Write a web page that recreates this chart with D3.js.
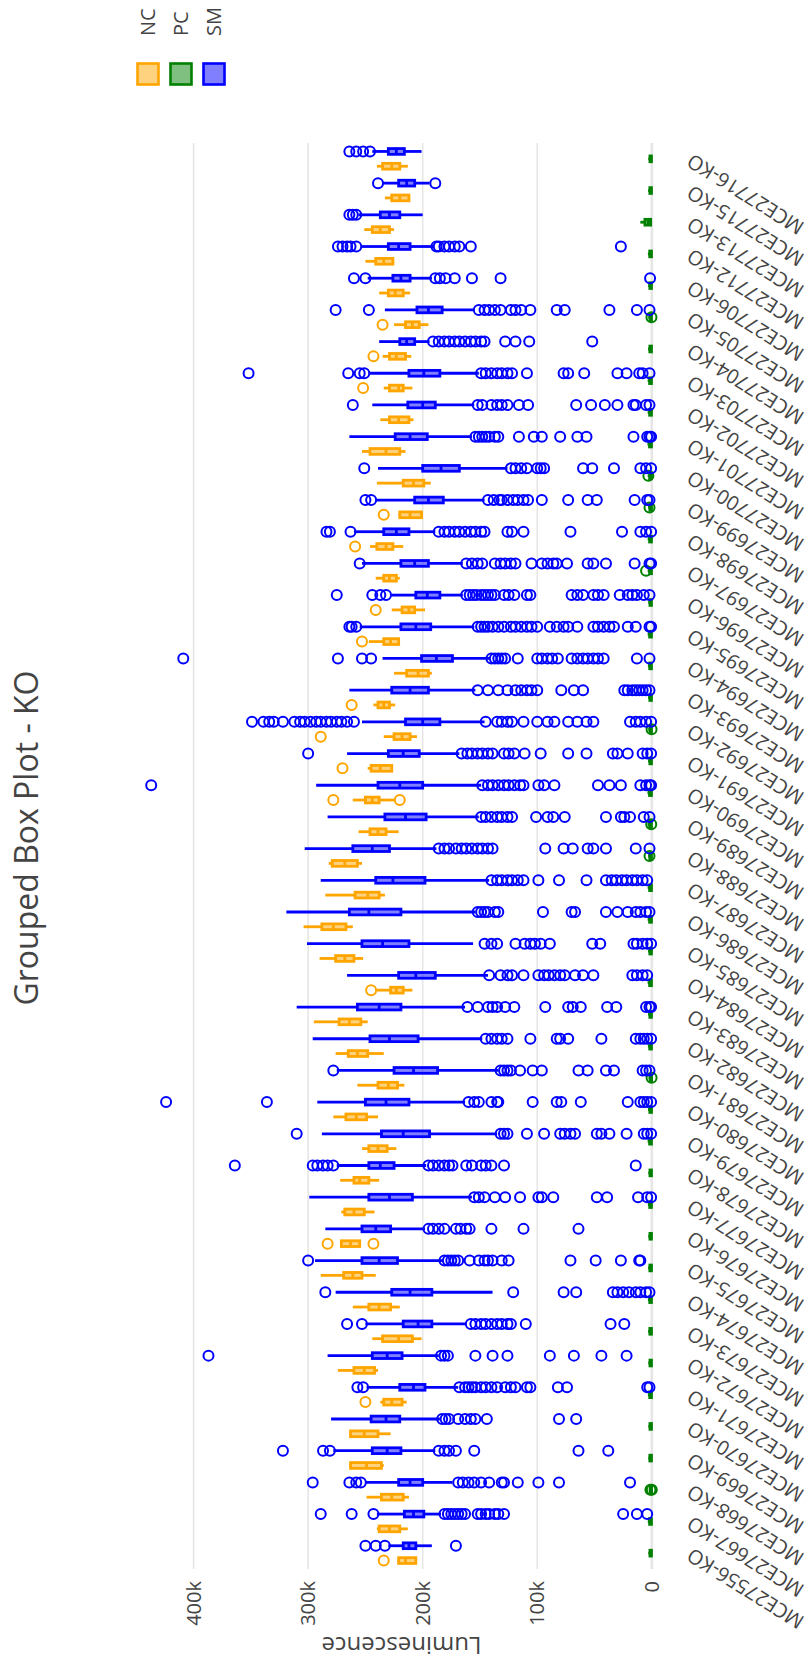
<!DOCTYPE html>
<html><head><meta charset="utf-8">
<script src="https://cdn.jsdelivr.net/npm/d3@7"></script>
<style>body{margin:0;background:#fff}svg{display:block}</style>
</head><body>
<script>
const categories = ["MCE27556-KO","MCE27667-KO","MCE27668-KO","MCE27669-KO","MCE27670-KO","MCE27671-KO","MCE27672-KO","MCE27673-KO","MCE27674-KO","MCE27675-KO","MCE27676-KO","MCE27677-KO","MCE27678-KO","MCE27679-KO","MCE27680-KO","MCE27681-KO","MCE27682-KO","MCE27683-KO","MCE27684-KO","MCE27685-KO","MCE27686-KO","MCE27687-KO","MCE27688-KO","MCE27689-KO","MCE27690-KO","MCE27691-KO","MCE27692-KO","MCE27693-KO","MCE27694-KO","MCE27695-KO","MCE27696-KO","MCE27697-KO","MCE27698-KO","MCE27699-KO","MCE27700-KO","MCE27701-KO","MCE27702-KO","MCE27703-KO","MCE27704-KO","MCE27705-KO","MCE27706-KO","MCE27712-KO","MCE27713-KO","MCE27715-KO","MCE27716-KO"];
const seriesNames = ["NC","PC","SM"];
const yTicks = [0,100000,200000,300000,400000];

// values in thousands (k)
const smLo  = [192,184,174,189,185,169,186,162,139,183,198,157,197,135,163,134,148,163,143,156,154,142,188,151,149,168,146,154,142,155,165,165,189,146,126,157,155,151,194,155,192,191,200,194,201];
const smQ1  = [206,199,200,219,220,198,218,192,192,222,228,209,225,194,212,187,204,219,189,212,219,198,229,197,200,203,185,195,174,193,185,195,212,182,168,196,189,185,207,183,211,211,220,207,216];
const smMed = [212,208,211,231,232,208,231,204,211,238,241,229,237,217,232,208,229,238,206,235,247,226,244,215,220,217,200,211,188,206,196,207,223,195,184,211,200,199,214,195,219,221,229,214,223];
const smQ3  = [217,216,221,244,245,220,244,217,227,253,253,247,247,236,250,225,246,257,221,253,264,241,261,233,239,230,215,227,201,219,206,219,234,207,200,224,213,212,220,205,226,230,237,221,230];
const smHi  = [230,240,250,278,280,249,283,250,276,294,285,299,275,288,292,275,296,310,266,301,319,289,303,283,293,266,253,264,235,255,227,253,260,241,239,264,244,247,238,233,248,254,256,235,244];
const smOut = [
 [250,241,233,171],
 [289,262,243,181,178,175,172,169,166,163,152,149,145,142,137,134,129,25,13,4],
 [296,264,258,254,169,165,160,155,149,142,131,129,117,99,81,19],
 [322,287,281,186,181,177,171,155,64,38],
 [183,180,177,169,163,158,154,144,81,66],
 [257,252,168,163,160,157,154,149,145,140,135,128,123,119,109,106,82,74,4,2],
 [387,184,181,178,154,139,126,89,68,44,22],
 [266,253,158,154,149,145,140,135,131,126,123,110,36,24],
 [285,121,77,66,34,30,25,20,14,10,5,2],
 [300,181,178,175,172,169,159,151,146,143,139,131,125,71,49,27,11,10],
 [195,191,186,181,171,167,162,159,140,112,64],
 [155,151,146,137,128,115,99,96,86,48,39,12,4,0.6],
 [364,296,292,287,283,278,195,191,186,181,177,174,162,157,149,145,140,129,14],
 [310,132,129,126,109,94,80,76,71,67,48,44,37,22,7,4,0.6],
 [424,336,160,155,151,140,135,134,104,83,79,62,21,10,7,4,0.6],
 [278,132,129,126,123,115,104,96,64,56,40,33,8,5,2],
 [145,140,135,131,126,106,83,80,73,44,14,10,7,4,0.6],
 [161,152,143,139,135,128,120,93,73,69,62,39,31,5,2,0.6],
 [142,132,126,122,112,99,94,90,85,80,76,67,60,51,17,13,8,4],
 [146,140,135,119,111,106,102,97,89,52,45,16,13,8,4,0.6],
 [152,149,146,143,137,134,95,70,67,40,30,21,14,10,5,2],
 [140,135,131,126,122,117,112,99,81,57,40,35,31,26,22,17,13,8,4],
 [186,181,177,171,166,162,157,152,148,143,139,93,77,69,56,51,40,14,2],
 [149,145,140,135,131,126,122,101,91,86,76,40,27,24,19,7,2],
 [437,148,143,139,134,129,125,120,115,112,99,94,85,47,37,27,10,5,2,0.6],
 [300,166,161,157,152,148,143,139,129,125,120,111,97,73,57,34,30,21,8,4,0.6],
 [349,339,334,330,322,312,307,303,298,293,289,284,280,275,271,266,260,145,135,131,126,122,112,100,91,85,73,65,57,51,19,14,10,5,0.6],
 [152,143,134,126,119,114,109,105,100,79,68,60,24,21,17,14,11,8,5,2],
 [409,274,253,245,140,137,134,131,128,117,100,96,91,87,82,70,65,60,56,51,47,42,13,2],
 [264,262,258,152,149,146,143,139,134,129,123,119,114,109,105,100,89,83,77,73,65,51,47,42,37,33,21,14,2,0.6],
 [275,244,237,232,162,159,156,153,149,146,143,140,137,129,125,120,109,106,70,65,60,51,47,42,28,21,17,13,7,2],
 [255,162,157,152,148,137,132,128,123,119,105,96,91,86,83,74,56,51,40,15,2,0.6],
 [284,281,263,186,181,177,172,168,163,158,154,149,146,126,122,112,71,26,10,5,0.6],
 [250,245,143,138,133,131,126,121,117,112,108,96,73,56,48,15,4,2],
 [251,123,119,114,109,100,97,94,60,52,33,10,5,0.6],
 [154,151,148,145,142,137,134,116,103,96,80,65,57,16,4,2,0.6],
 [261,152,148,140,135,131,126,116,108,66,53,41,30,16,14,5,2],
 [352,265,255,251,149,145,140,135,131,126,122,109,77,73,59,30,22,11,8,2],
 [191,186,181,177,172,168,163,158,154,149,146,128,119,107,52],
 [276,247,151,146,142,137,132,123,119,114,106,83,76,37,13,2],
 [260,250,189,185,180,172,157,132,1.5],
 [274,270,266,263,258,188,186,181,177,172,168,158,27],
 [264,261,258],
 [239,189],
 [264,258,252,246]
];

const ncLo  = [205,213,212,234,228,214,239,201,220,241,255,242,238,223,239,216,234,248,209,252,261,233,253,221,224,227,205,224,192,220,198,220,217,200,193,215,208,209,210,195,211,225,225,211,213];
const ncQ1  = [206,220,217,236,239,218,242,209,228,253,255,251,247,231,249,222,248,254,217,260,267,238,257,232,238,227,211,229,195,221,207,223,226,201,199,220,212,217,215,203,217,226,229,212,220];
const ncMed = [215,229,227,249,251,227,251,221,238,261,263,260,255,239,258,230,257,264,223,268,278,248,268,239,244,237,218,234,204,228,212,229,232,211,208,232,221,221,223,209,224,234,237,220,227];
const ncQ3  = [221,238,236,263,263,234,260,235,247,269,271,268,260,247,267,239,265,273,228,276,288,259,279,246,250,245,225,239,214,234,218,234,240,220,217,246,229,229,229,215,230,241,244,227,235];
const ncHi  = [222,240,249,264,264,237,274,244,261,289,271,271,272,253,278,257,276,295,240,290,304,285,282,256,261,248,234,243,225,247,227,241,246,221,240,253,237,234,235,225,238,250,251,233,240];
const ncOut = [[234],[],[],[],[],[250],[],[],[],[],[283,243],[],[],[],[],[],[],[],[245],[],[],[],[],[],[278,220],[270],[289],[262],[],[253],[241],[],[259],[234],[],[],[],[252],[243],[235],[],[],[],[],[]];

const pcLo  = [0,0,0,0,0,0,0,0,0,0,0,0,0,0,0,0,0,0,0,0,0,0,0,0,0,0,0,0,0,0,0,0,0,0,0,0,0,0,0,0,0,0,0,0,0];
const pcQ1  = [0.3,0.3,0.2,0.3,0.3,0.3,0.3,0.3,0.3,0.3,0.3,0.3,0.3,0.3,0.3,0.2,0.3,0.3,0.3,0.3,0.3,0.3,0.3,0.3,0.3,0.3,0.3,0.3,0.3,0.3,0.3,0.3,0.3,0.3,0.3,0.3,0.3,0.3,0.3,0.3,0.3,0.3,1.0,0.3,0.3];
const pcMed = [0.8,0.9,0.7,0.8,0.8,0.9,0.8,0.8,0.9,0.8,0.8,0.9,0.8,0.9,0.8,0.7,0.9,0.8,0.9,0.8,0.9,0.9,0.8,0.9,0.9,0.8,0.8,0.8,0.9,0.9,0.8,0.9,0.9,0.8,0.9,0.9,0.9,0.9,0.8,0.8,0.8,0.9,3.0,0.8,0.8];
const pcQ3  = [1.6,1.9,1.4,1.7,1.6,1.8,1.6,1.7,1.8,1.7,1.6,1.8,1.6,1.9,1.7,1.5,1.8,1.7,1.9,1.7,1.9,1.9,1.7,1.9,2.0,1.7,1.6,1.7,1.8,1.9,1.6,1.9,1.9,1.7,1.9,2.0,1.9,1.9,1.7,1.6,1.7,1.8,6.0,1.7,1.6];
const pcHi  = [3.0,3.5,2.6,3.0,3.0,3.4,3.0,3.2,3.4,3.2,3.0,3.4,3.0,3.6,3.2,2.8,3.4,3.2,3.6,3.2,3.6,3.6,3.2,3.6,3.8,3.2,3.0,3.2,3.4,3.6,3.0,3.6,3.6,3.2,3.6,3.8,3.6,3.6,3.2,3.0,3.2,3.4,10.0,3.2,3.0];
const pcOut = [[],[],[1.2,0],[],[],[],[],[],[],[],[],[],[],[],[],[0.2],[],[],[],[],[],[],[2],[0.5],[],[],[0.2],[],[],[],[],[5],[],[2],[3],[],[],[],[],[0.3],[],[],[],[],[]];

const colors = ["#FFA500","#008000","#0000FF"];
const fills  = ["rgba(255,165,0,0.5)","rgba(0,128,0,0.5)","rgba(0,0,255,0.5)"];
const stats = [
  {lo:ncLo,q1:ncQ1,med:ncMed,q3:ncQ3,hi:ncHi,out:ncOut},
  {lo:pcLo,q1:pcQ1,med:pcMed,q3:pcQ3,hi:pcHi,out:pcOut},
  {lo:smLo,q1:smQ1,med:smMed,q3:smQ3,hi:smHi,out:smOut}
];
const K = 1000;

// original (unrotated) frame is 1664 x 811, then rotated 90deg CCW into 811 x 1664
const W0 = 1664, H0 = 811;
const FONT = "'Open Sans', verdana, arial, sans-serif";
const svg = d3.select("body").append("svg").attr("width", H0).attr("height", W0)
  .style("background", "#fff");
const g = svg.append("g").attr("transform", `translate(0,${W0}) rotate(-90)`);

const plot = {l: 95, r: 1521, t: 126, b: 677};
const x = d3.scaleBand().domain(categories).range([plot.l, plot.r]).padding(0);
const y = d3.scaleLinear().domain([-22000, 459000]).range([plot.b, plot.t]);

// grid
g.append("g").selectAll("line").data(yTicks).join("line")
  .attr("x1", plot.l).attr("x2", plot.r)
  .attr("y1", d => y(d)).attr("y2", d => y(d))
  .attr("stroke", "#e6e6e6").attr("stroke-width", d => d === 0 ? 2.6 : 1.6);

// y tick labels
g.append("g").selectAll("text").data(yTicks).join("text")
  .attr("x", plot.l - 12).attr("y", d => y(d)).attr("dy", "0.35em")
  .attr("text-anchor", "end").attr("font-family", FONT).attr("font-size", 20)
  .attr("fill", "#444").text(d => d3.format("~s")(d));

// category labels
const bw = x.bandwidth();
g.append("g").selectAll("text").data(categories).join("text")
  .attr("transform", d => `translate(${x(d) + bw / 2},${plot.b + 12}) rotate(-58)`)
  .attr("text-anchor", "end").attr("dy", "0.35em")
  .attr("font-family", FONT).attr("font-size", 20).attr("fill", "#444")
  .text(d => d);

// boxes
const slot = bw * (1 - 0.3) / 3;
const boxW = slot * (1 - 0.3) + 0.6;
const LW = 2.8;
stats.forEach((s, si) => {
  const off = (si - 1) * slot;
  const sg = g.append("g");
  const col = colors[si];
  categories.forEach((c, i) => {
    const cu = x(c) + bw / 2 + off;
    const bx = sg.append("g");
    bx.append("line").attr("x1", cu).attr("x2", cu)
      .attr("y1", y(s.lo[i] * K)).attr("y2", y(s.q1[i] * K))
      .attr("stroke", col).attr("stroke-width", LW);
    bx.append("line").attr("x1", cu).attr("x2", cu)
      .attr("y1", y(s.q3[i] * K)).attr("y2", y(s.hi[i] * K))
      .attr("stroke", col).attr("stroke-width", LW);
    bx.append("rect").attr("x", cu - boxW / 2).attr("width", boxW)
      .attr("y", y(s.q3[i] * K)).attr("height", Math.max(0.5, y(s.q1[i] * K) - y(s.q3[i] * K)))
      .attr("fill", fills[si]).attr("stroke", col).attr("stroke-width", LW);
    bx.append("line").attr("x1", cu - boxW / 2).attr("x2", cu + boxW / 2)
      .attr("y1", y(s.med[i] * K)).attr("y2", y(s.med[i] * K))
      .attr("stroke", col).attr("stroke-width", LW);
    bx.selectAll("circle").data(s.out[i]).join("circle")
      .attr("cx", cu).attr("cy", d => y(d * K)).attr("r", 5)
      .attr("fill", "none").attr("stroke", col).attr("stroke-width", 2);
  });
});

// title
g.append("text").attr("x", 826).attr("y", 38).attr("text-anchor", "middle")
  .attr("font-family", FONT).attr("font-size", 32).attr("fill", "#444")
  .text("Grouped Box Plot - KO");

// y axis title
g.append("text").attr("transform", `translate(27,${(plot.t + plot.b) / 2}) rotate(-90)`)
  .attr("text-anchor", "middle").attr("font-family", FONT).attr("font-size", 24)
  .attr("fill", "#444").text("Luminescence");

// legend
const leg = g.append("g").selectAll("g").data(seriesNames).join("g")
  .attr("transform", (d, i) => `translate(1590,${148 + i * 33})`);
leg.append("rect").attr("x", -10.5).attr("y", -10.5).attr("width", 21).attr("height", 21)
  .attr("fill", (d, i) => fills[i]).attr("stroke", (d, i) => colors[i]).attr("stroke-width", 2.6);
leg.append("text").attr("x", 38).attr("dy", "0.35em")
  .attr("font-family", FONT).attr("font-size", 20).attr("fill", "#444").text(d => d);
</script>
</body></html>
